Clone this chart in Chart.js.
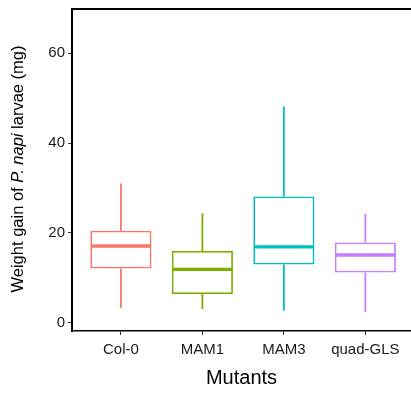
<!DOCTYPE html>
<html lang="en">
<head>
  <meta charset="UTF-8" />
  <title>Weight gain boxplot</title>
  <script src="https://cdn.jsdelivr.net/npm/chart.js"></script>
  <style>
    body { margin: 0; background: #fff; }
    #wrap { width: 411px; height: 396px; }
  </style>
</head>
<body>
  <div id="wrap"><canvas id="boxChart"></canvas></div>

  <script>
    // values (mg)
    const mutants = ['Col-0', 'MAM1', 'MAM3', 'quad-GLS'];
    const colors = ['#F8766D', '#7CAE00', '#00BFC4', '#C77CFF'];
    const whiskerLow = [3.3, 3.1, 2.7, 2.4];
    const q1 = [12.1, 6.4, 13.0, 11.2];
    const median = [17.1, 11.9, 16.9, 15.1];
    const q3 = [20.5, 16.0, 28.1, 17.9];
    const whiskerHigh = [31.0, 24.4, 48.1, 24.2];
    const yTicks = [0, 20, 40, 60];

    const FONT = "'Liberation Sans', Arial, Helvetica, sans-serif";

    // whiskers, medians, top frame line and the mixed-style y title
    const boxExtras = {
      id: 'boxExtras',
      afterDatasetsDraw(chart) {
        const ctx = chart.ctx;
        const xs = chart.scales.x, ys = chart.scales.y;
        const meta = chart.getDatasetMeta(0);
        ctx.save();
        mutants.forEach((m, i) => {
          const x = xs.getPixelForValue(i);
          const half = meta.data[i].width / 2;
          ctx.strokeStyle = colors[i];
          ctx.lineWidth = 1.8;
          ctx.beginPath();
          ctx.moveTo(x, ys.getPixelForValue(whiskerHigh[i]));
          ctx.lineTo(x, ys.getPixelForValue(q3[i]));
          ctx.moveTo(x, ys.getPixelForValue(q1[i]));
          ctx.lineTo(x, ys.getPixelForValue(whiskerLow[i]));
          ctx.stroke();
          ctx.lineWidth = 3.4;
          ctx.beginPath();
          const my = ys.getPixelForValue(median[i]);
          ctx.moveTo(x - half + 0.5, my);
          ctx.lineTo(x + half - 0.5, my);
          ctx.stroke();
        });
        // top frame line
        const a = chart.chartArea;
        ctx.strokeStyle = '#000';
        ctx.lineWidth = 2;
        ctx.beginPath();
        ctx.moveTo(a.left - 1, a.top);
        ctx.lineTo(chart.width, a.top);
        ctx.stroke();
        ctx.restore();
      },
      afterDraw(chart) {
        const ctx = chart.ctx;
        const parts = [
          ['Weight gain of ', 'normal'],
          ['P. napi', 'italic'],
          [' larvae (mg)', 'normal']
        ];
        ctx.save();
        ctx.fillStyle = '#000';
        ctx.textBaseline = 'middle';
        let total = 0;
        parts.forEach(p => {
          ctx.font = p[1] + ' 16.5px ' + FONT;
          total += ctx.measureText(p[0]).width;
        });
        ctx.translate(18, 169);
        ctx.rotate(-Math.PI / 2);
        let x = -total / 2;
        parts.forEach(p => {
          ctx.font = p[1] + ' 16.5px ' + FONT;
          ctx.fillText(p[0], x, 0);
          x += ctx.measureText(p[0]).width;
        });
        ctx.restore();
      }
    };

    const ctx = document.getElementById('boxChart').getContext('2d');
    new Chart(ctx, {
      type: 'bar',
      data: {
        datasets: [{
          data: mutants.map((m, i) => ({ x: i, y: [q1[i], q3[i]] })),
          backgroundColor: '#ffffff',
          borderColor: colors,
          borderWidth: 1.8,
          borderSkipped: false,
          barPercentage: 0.75,
          categoryPercentage: 1
        }]
      },
      options: {
        responsive: true,
        maintainAspectRatio: false,
        animation: false,
        layout: { padding: { top: 9, right: 0, left: 0, bottom: 0 } },
        plugins: { legend: { display: false }, tooltip: { enabled: false } },
        scales: {
          x: {
            type: 'linear',
            offset: false,
            min: -0.6,
            max: 3.56,
            afterBuildTicks: s => { s.ticks = mutants.map((m, i) => ({ value: i })); },
            afterFit: s => { s.height = 65; s.paddingLeft = 0; s.paddingRight = 0; },
            grid: { drawOnChartArea: false, offset: false, tickLength: 4, tickColor: '#333' },
            border: { display: true, color: '#000', width: 1.5 },
            ticks: {
              autoSkip: false,
              maxRotation: 0,
              padding: 6,
              color: '#1a1a1a',
              font: { family: FONT, size: 15 },
              callback: v => mutants[v]
            },
            title: {
              display: true,
              text: 'Mutants',
              color: '#000',
              font: { family: FONT, size: 20 },
              padding: { top: 4, bottom: 6 }
            }
          },
          y: {
            min: -1.8,
            max: 69.8,
            afterBuildTicks: s => { s.ticks = yTicks.map(v => ({ value: v })); },
            afterFit: s => { s.width = 72; s.paddingTop = 0; s.paddingBottom = 0; },
            grid: { drawOnChartArea: false, tickLength: 4, tickColor: '#333' },
            border: { display: true, color: '#000', width: 2 },
            ticks: {
              padding: 3,
              color: '#1a1a1a',
              font: { family: FONT, size: 15 }
            }
          }
        }
      },
      plugins: [boxExtras]
    });
  </script>
</body>
</html>
